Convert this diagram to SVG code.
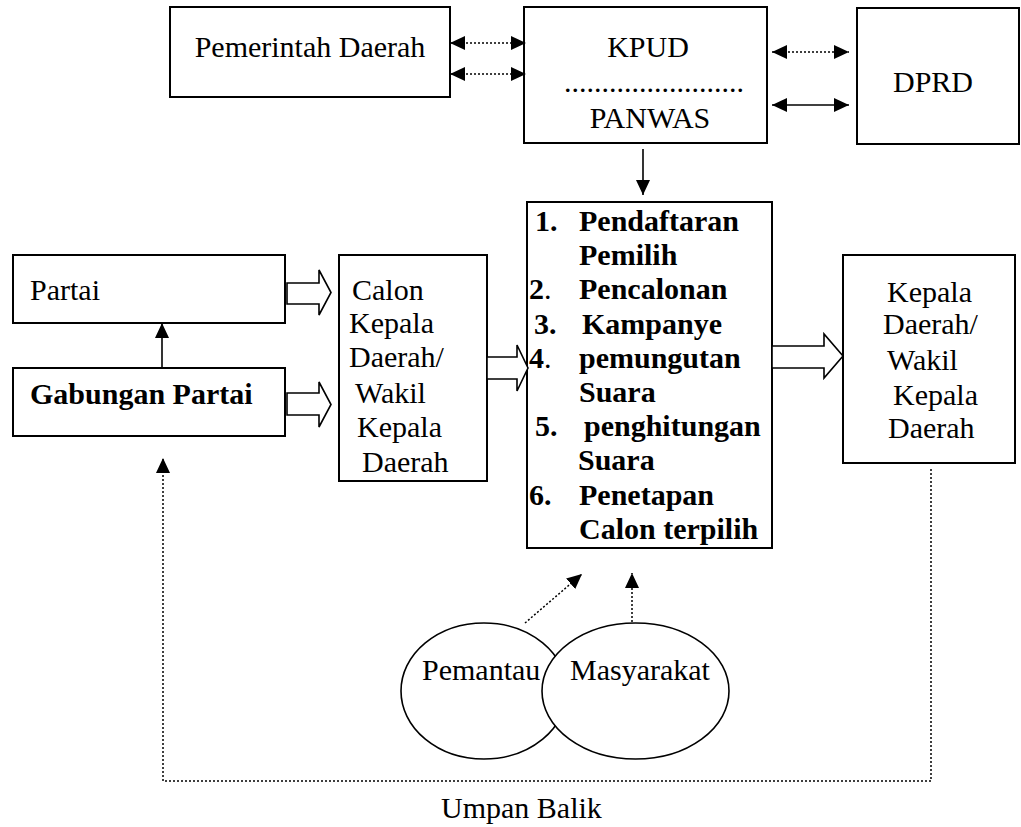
<svg xmlns="http://www.w3.org/2000/svg" width="1021" height="827" viewBox="0 0 1021 827">
<style>
text{font-family:"Liberation Serif","Times New Roman",serif;font-size:30px;fill:#000}
.b{font-weight:bold}
.n{font-weight:normal}
.box{fill:#fff;stroke:#000;stroke-width:2}
.ell{fill:#fff;stroke:#000;stroke-width:1.6}
.solid{fill:none;stroke:#000;stroke-width:1.6}
.dot{fill:none;stroke:#000;stroke-width:1.5;stroke-dasharray:2 2}
.blk{fill:#fff;stroke:#000;stroke-width:1.6;stroke-linejoin:miter}
.m{text-anchor:middle}
</style>
<defs>
<marker id="ah" viewBox="0 0 15 14" refX="15" refY="7" markerWidth="15" markerHeight="14" markerUnits="userSpaceOnUse" orient="auto-start-reverse">
<path d="M0,0 L15,7 L0,14 Z" fill="#000" stroke="none"/>
</marker>
</defs>
<rect width="1021" height="827" fill="#fff"/>

<g id="pemerintah">
<rect class="box" x="170" y="7" width="280" height="90"/>
<text class="m" x="310" y="57">Pemerintah Daerah</text>
</g>
<g id="kpud">
<rect class="box" x="524" y="7" width="243" height="136"/>
<text class="m" x="648" y="57">KPUD</text>
<text x="564" y="92">........................</text>
<text class="m" x="650" y="128">PANWAS</text>
</g>
<g id="dprd">
<rect class="box" x="857" y="8" width="162" height="136"/>
<text class="m" x="933" y="92">DPRD</text>
</g>
<g id="partai">
<rect class="box" x="13" y="255" width="272" height="68"/>
<text x="30" y="300">Partai</text>
</g>
<g id="gabungan">
<rect class="box" x="13" y="368" width="272" height="68"/>
<text class="b" x="30" y="404">Gabungan Partai</text>
</g>
<g id="calon">
<rect class="box" x="339" y="255" width="148" height="226"/>
<text x="352" y="300">Calon</text>
<text x="349" y="333">Kepala</text>
<text x="349" y="367">Daerah/</text>
<text x="355" y="403">Wakil</text>
<text x="357" y="437">Kepala</text>
<text x="362" y="472">Daerah</text>
</g>
<g id="tahapan">
<rect class="box" x="527" y="202" width="245" height="346"/>
<text class="b" x="535" y="231">1.</text><text class="b" x="579" y="231">Pendaftaran</text>
<text class="b" x="579" y="265">Pemilih</text>
<text class="b" x="529" y="299">2<tspan class="n">.</tspan></text><text class="b" x="579" y="299">Pencalonan</text>
<text class="b" x="534" y="334">3.</text><text class="b" x="582" y="334">Kampanye</text>
<text class="b" x="529" y="368">4<tspan class="n">.</tspan></text><text class="b" x="579" y="368">pemungutan</text>
<text class="b" x="579" y="402">Suara</text>
<text class="b" x="535" y="436">5.</text><text class="b" x="584" y="436">penghitungan</text>
<text class="b" x="578" y="470">Suara</text>
<text class="b" x="529" y="505">6.</text><text class="b" x="579" y="505">Penetapan</text>
<text class="b" x="579" y="539">Calon terpilih</text>
</g>
<g id="kepala">
<rect class="box" x="843" y="255" width="172" height="208"/>
<text x="887" y="302">Kepala</text>
<text x="883" y="334">Daerah/</text>
<text x="887" y="370">Wakil</text>
<text x="893" y="405">Kepala</text>
<text x="888" y="438">Daerah</text>
</g>
<g id="pemantau">
<ellipse class="ell" cx="484" cy="691" rx="83" ry="68"/>
<text x="422" y="680">Pemantau</text>
</g>
<g id="masyarakat">
<ellipse class="ell" cx="635.5" cy="691" rx="93.5" ry="68"/>
<text x="570" y="680">Masyarakat</text>
</g>
<g id="umpan-balik">
<text x="441" y="818">Umpan Balik</text>
</g>

<g id="connectors">
<line class="dot" x1="450" y1="43" x2="526" y2="43" marker-start="url(#ah)" marker-end="url(#ah)"/>
<line class="dot" x1="450" y1="74" x2="526" y2="74" marker-start="url(#ah)" marker-end="url(#ah)"/>
<line class="dot" x1="772" y1="52" x2="849" y2="52" marker-start="url(#ah)" marker-end="url(#ah)"/>
<line class="solid" x1="772" y1="105" x2="849" y2="105" marker-start="url(#ah)" marker-end="url(#ah)"/>
<line class="solid" x1="643" y1="149" x2="643" y2="195" marker-end="url(#ah)"/>
<line class="solid" x1="162" y1="368" x2="162" y2="323" marker-end="url(#ah)"/>
<polygon class="blk" points="287,283 319,283 319,270 331,292.5 319,315 319,304 287,304"/>
<polygon class="blk" points="287,393 319,393 319,382 331,404.5 319,427 319,415 287,415"/>
<polygon class="blk" points="487,357 517,357 517,345 528,368 517,391 517,379 487,379"/>
<polygon class="blk" points="772,346 824,346 824,334 843,356 824,378 824,368 772,368"/>
<line class="dot" x1="525" y1="623" x2="582" y2="574" marker-end="url(#ah)"/>
<line class="dot" x1="632" y1="622" x2="632" y2="573" marker-end="url(#ah)"/>
<polyline class="dot" points="931,469 931,781 163,781 163,458" marker-end="url(#ah)"/>
</g>
</svg>
